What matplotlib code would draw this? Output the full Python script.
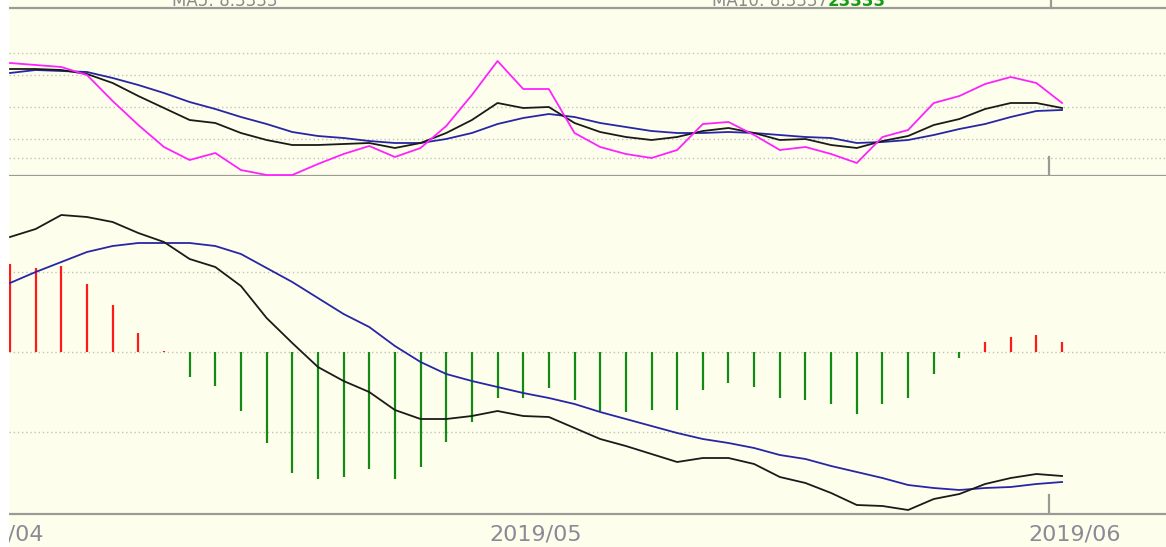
import matplotlib.pyplot as plt
import matplotlib.transforms as mtransforms
from matplotlib.patches import Rectangle
import numpy as np

# upper panel: three averages
ma_fast = [113, 111, 109, 101, 75, 51, 29, 16, 23, 6, 1, 1, 12, 22, 30, 19, 28, 50, 81, 115,
           87, 87, 43, 29, 22, 18, 26, 52, 54, 41, 26, 29, 22, 13, 39, 46, 73, 80, 92, 99, 93, 73]
ma_mid = [107, 107, 106, 102, 93, 80, 68, 56, 53, 43, 36, 31, 31, 32, 33, 28, 33, 43, 56, 73,
          68, 69, 53, 44, 39, 36, 39, 45, 48, 43, 36, 37, 31, 28, 35, 40, 51, 57, 67, 73, 73, 68]
ma_slow = [103, 106, 105, 104, 98, 91, 83, 74, 67, 59, 52, 44, 40, 38, 35, 33, 33, 37, 43, 52,
           58, 62, 59, 53, 49, 45, 43, 43, 44, 43, 41, 39, 38, 33, 34, 36, 41, 47, 52, 59, 65, 66]
top_grid = [123, 101, 69, 37, 18]

# lower panel: MACD
dif = [0.115, 0.123, 0.137, 0.135, 0.130, 0.119, 0.110, 0.093, 0.085, 0.066,
       0.034, 0.009, -0.015, -0.029, -0.040, -0.058, -0.067, -0.067, -0.064, -0.059,
       -0.064, -0.065, -0.076, -0.087, -0.094, -0.102, -0.110, -0.106, -0.106, -0.112,
       -0.125, -0.131, -0.141, -0.153, -0.154, -0.158, -0.147, -0.142, -0.132, -0.126,
       -0.122, -0.124]
dea = [0.069, 0.080, 0.090, 0.100, 0.106, 0.109, 0.109, 0.109, 0.106, 0.098,
       0.084, 0.070, 0.054, 0.038, 0.025, 0.006, -0.010, -0.022, -0.029, -0.035,
       -0.041, -0.046, -0.052, -0.060, -0.067, -0.074, -0.081, -0.087, -0.091, -0.096,
       -0.103, -0.107, -0.114, -0.120, -0.126, -0.133, -0.136, -0.138, -0.136, -0.135,
       -0.132, -0.130]
hist = [0.088, 0.084, 0.086, 0.068, 0.047, 0.019, 0.001, -0.025, -0.034, -0.059,
        -0.091, -0.121, -0.127, -0.125, -0.117, -0.127, -0.115, -0.090, -0.070, -0.046,
        -0.046, -0.036, -0.048, -0.059, -0.060, -0.058, -0.058, -0.038, -0.031, -0.035,
        -0.046, -0.048, -0.052, -0.062, -0.052, -0.046, -0.022, -0.006, 0.010, 0.015,
        0.017, 0.010]
low_grid = [0.08, 0.0, -0.08]

month_labels = ["2019/04", "2019/05", "2019/06"]
month_pos = [-0.5, 20.5, 41.5]
month_sep = 40.5

bg = "#fefeec"
frame = "#9a9a96"
x = np.arange(len(dif))

fig = plt.figure(figsize=(11.66, 5.47), dpi=100, facecolor=bg)
fig.patches.append(Rectangle((0, 0), 9 / 1166, 1, transform=fig.transFigure,
                             facecolor="white", edgecolor="none", zorder=0))

W, H = 1166, 547
ax1 = fig.add_axes([9 / W, 1 - 176 / H, 1 - 9 / W, 168 / H])
ax2 = fig.add_axes([9 / W, 1 - 514 / H, 1 - 9 / W, 338 / H])

xlim = (-1 / 25.66, (1166 - 10) / 25.66)
for ax in (ax1, ax2):
    ax.set_facecolor(bg)
    ax.set_xlim(*xlim)
    ax.set_xticks([])
    ax.set_yticks([])
    for s in ("left", "right"):
        ax.spines[s].set_visible(False)
    for s in ("top", "bottom"):
        ax.spines[s].set_color(frame)
        ax.spines[s].set_linewidth(1.6)
ax2.spines["top"].set_visible(False)

# top panel
ax1.set_ylim(0, 168)
for g in top_grid:
    ax1.axhline(g, color="#c4c4bc", lw=1.0, ls=(0, (1, 2)), zorder=1)
ax1.plot(x, ma_slow, color="#2626a6", lw=1.3, zorder=3)
ax1.plot(x, ma_mid, color="#1a1a1a", lw=1.3, zorder=4)
ax1.plot(x, ma_fast, color="#ff22ff", lw=1.3, zorder=5)
ax1.plot([month_sep, month_sep], [0, 19], color=frame, lw=1.6, zorder=2)

# bottom panel
ax2.set_ylim(-0.162, 0.176)
for g in low_grid:
    ax2.axhline(g, color="#c4c4bc", lw=1.0, ls=(0, (1, 2)), zorder=1)
h = np.array(hist)
cols = np.where(h >= 0, "#ff1a1a", "#138a13")
ax2.vlines(x, 0, h, colors=cols, lw=1.6, zorder=2)
ax2.plot(x, dea, color="#2626a6", lw=1.3, zorder=3)
ax2.plot(x, dif, color="#1a1a1a", lw=1.3, zorder=4)
ax2.plot([month_sep, month_sep], [-0.162, -0.143], color=frame, lw=1.6, zorder=2)

# date labels
trans = mtransforms.blended_transform_factory(ax2.transData, fig.transFigure)
for lab, p in zip(month_labels, month_pos):
    ax2.text(p, 1 - 534 / H, lab, transform=trans, ha="center", va="center",
             fontsize=16, color="#8a8a98", clip_on=False)

# clipped legend texts at the top edge
fig.text(172 / W, 1 - 1 / H, "MA5: 8.3333", color="#8a8a8a", fontsize=12, va="center")
fig.text(712 / W, 1 - 1 / H, "MA10: 8.3337", color="#8a8a8a", fontsize=12, va="center")
fig.text(828 / W, 1 - 1 / H, "23333", color="#1a9a1a", fontsize=12, va="center",
         fontweight="bold")
fig.lines.append(plt.Line2D([1051 / W, 1051 / W], [1 - 8 / H, 1], transform=fig.transFigure,
                            color=frame, lw=1.6))

plt.savefig("out.png", dpi=100, facecolor=bg)
